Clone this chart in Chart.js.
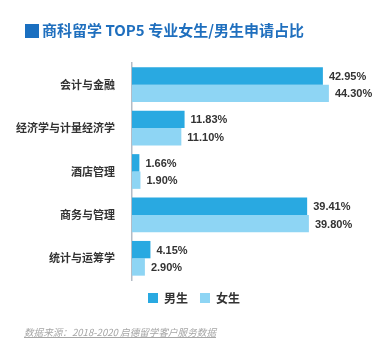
<!DOCTYPE html>
<html>
<head>
<meta charset="utf-8">
<script src="https://cdn.jsdelivr.net/npm/chart.js@4/dist/chart.umd.min.js"></script>
<style>
  html, body { margin: 0; padding: 0; background: #fff; }
  #wrap { position: relative; width: 388px; height: 354px; overflow: hidden; }
  #c { position: absolute; left: 0; top: 0; }
  #title { position: absolute; left: 25px; top: 19px; height: 20px; line-height: 20px;
    font: bold 15px "Noto Sans CJK SC", "Noto Sans", sans-serif; color: #1f6fbe; white-space: nowrap; }
  #title .sq { display: inline-block; width: 14px; height: 14px; background: #1a6fc0; vertical-align: -2px; margin-right: 3px; }
  #foot { position: absolute; left: 24px; top: 325px; font: italic 9.6px "Noto Sans CJK SC", "Noto Sans", sans-serif;
    color: #a6a6a6; text-decoration: underline; white-space: nowrap; }
</style>
</head>
<body>
<div id="wrap">
  <canvas id="c" width="388" height="354"></canvas>
  <div id="title"><span class="sq"></span>商科留学 TOP5 专业女生/男生申请占比</div>
  <div id="foot">数据来源：2018-2020 启德留学客户服务数据</div>
</div>
<script>
const categories = ["会计与金融", "经济学与计量经济学", "酒店管理", "商务与管理", "统计与运筹学"];
const seriesNames = ["男生", "女生"];
const maleValues = [42.95, 11.83, 1.66, 39.41, 4.15];
const femaleValues = [44.30, 11.10, 1.90, 39.80, 2.90];

const valueLabels = {
  id: 'valueLabels',
  afterDatasetsDraw(chart) {
    const ctx = chart.ctx;
    ctx.save();
    ctx.font = 'bold 11px "Liberation Sans", Arial, sans-serif';
    ctx.fillStyle = '#333';
    ctx.textAlign = 'left';
    ctx.textBaseline = 'middle';
    chart.data.datasets.forEach((ds, di) => {
      const meta = chart.getDatasetMeta(di);
      meta.data.forEach((el, i) => {
        ctx.fillText(ds.data[i].toFixed(2) + '%', el.x + 6, el.y + 1);
      });
    });
    ctx.restore();
  }
};

new Chart(document.getElementById('c'), {
  type: 'bar',
  data: {
    labels: categories,
    datasets: [
      { label: seriesNames[0], data: maleValues, backgroundColor: '#29a9e1' },
      { label: seriesNames[1], data: femaleValues, backgroundColor: '#8ed5f4' }
    ]
  },
  options: {
    indexAxis: 'y',
    responsive: false,
    animation: false,
    devicePixelRatio: 1,
    layout: { padding: { top: 63, left: 0, right: 0, bottom: 40 } },
    datasets: { bar: { barPercentage: 1.0, categoryPercentage: 0.8 } },
    scales: {
      x: { display: false, min: 0, max: 57.6 },
      y: {
        grid: { display: false },
        border: { display: true, color: '#b4bcc6', width: 1.5 },
        ticks: { color: '#333', padding: 9, font: { family: '"Noto Sans CJK SC", sans-serif', size: 11, weight: 'bold' } },
        afterFit(scale) { scale.width = 132; }
      }
    },
    plugins: {
      legend: {
        position: 'bottom',
        labels: {
          boxWidth: 10, boxHeight: 10, padding: 12, color: '#333',
          font: { family: '"Noto Sans CJK SC", sans-serif', size: 12, weight: 'bold' }
        }
      },
      tooltip: { enabled: false }
    }
  },
  plugins: [valueLabels]
});
</script>
</body>
</html>
